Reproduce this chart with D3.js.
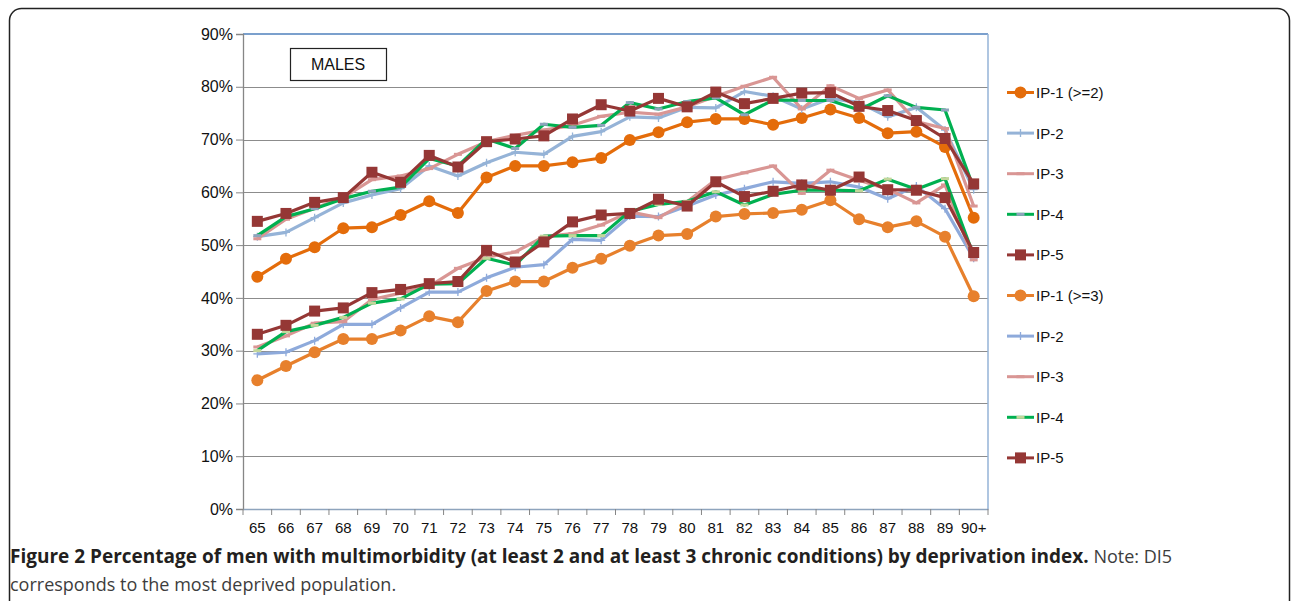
<!DOCTYPE html>
<html>
<head>
<meta charset="utf-8">
<script src="https://cdn.jsdelivr.net/npm/d3@7"></script>
<style>
  body { margin: 0; background: #fff; }
  svg { display: block; }
</style>
</head>
<body>
<div id="container"></div>
<script>
//---------------------------------------------------------
// DATA

const ages = ['65','66','67','68','69','70','71','72','73','74','75','76','77',
  '78','79','80','81','82','83','84','85','86','87','88','89','90+']

const yTicks = [0, 10, 20, 30, 40, 50, 60, 70, 80, 90]

// at least 2 chronic conditions
const ip1_2 = [44.0,47.4,49.6,53.2,53.4,55.7,58.3,56.1,62.8,65.0,65.0,65.7,66.5,69.9,71.4,73.3,73.9,73.9,72.8,74.1,75.7,74.1,71.2,71.5,68.6,55.2]
const ip2_2 = [51.6,52.4,55.2,58.0,59.5,60.7,65.0,63.1,65.6,67.6,67.2,70.6,71.5,74.3,74.1,76.1,76.0,79.1,78.2,75.8,77.8,77.0,74.3,76.1,71.8,60.5]
const ip3_2 = [51.2,54.9,57.0,59.0,62.4,63.1,64.5,67.2,69.6,70.8,71.8,72.7,74.4,75.2,74.8,76.2,78.2,80.1,81.8,75.8,80.2,77.8,79.4,73.4,72.1,57.4]
const ip4_2 = [51.8,55.4,56.9,58.8,60.2,61.0,66.4,65.0,70.1,68.3,72.9,72.3,72.7,77.0,75.8,77.2,77.9,74.7,77.5,77.4,77.4,75.6,78.3,76.1,75.6,60.8]
const ip5_2 = [54.5,56.0,58.1,59.0,63.8,61.9,67.0,64.8,69.6,70.1,70.7,73.9,76.6,75.4,77.8,76.2,79.0,76.8,77.8,78.8,78.9,76.3,75.5,73.6,70.2,61.6]

// at least 3 chronic conditions
const ip1_3 = [24.4,27.1,29.7,32.2,32.2,33.8,36.5,35.4,41.3,43.1,43.1,45.7,47.4,49.9,51.8,52.1,55.4,55.9,56.1,56.7,58.5,54.9,53.4,54.5,51.6,40.3]
const ip2_3 = [29.4,29.7,31.9,35.0,35.0,38.1,41.1,41.1,43.8,45.8,46.3,51.1,50.9,55.5,55.4,57.4,59.5,60.7,62.0,61.7,62.0,61.0,58.8,61.2,56.9,47.5]
const ip3_3 = [30.7,32.8,35.2,35.5,39.7,40.9,42.2,45.6,47.7,48.7,51.6,52.2,53.8,56.3,55.2,58.2,62.4,63.7,65.0,59.8,64.2,62.3,60.6,58.0,61.4,47.2]
const ip4_3 = [30.0,33.6,34.8,36.3,39.0,39.8,42.6,42.7,47.5,46.2,51.7,51.8,51.8,56.4,57.7,58.3,60.1,57.6,59.6,60.4,60.4,60.3,62.5,60.6,62.6,48.0]
const ip5_3 = [33.1,34.8,37.5,38.1,41.0,41.6,42.7,43.1,49.0,46.8,50.6,54.4,55.7,56.0,58.7,57.4,62.0,59.2,60.2,61.4,60.4,62.9,60.5,60.4,59.0,48.6]

const seriesNames = ['IP-1 (>=2)','IP-2','IP-3','IP-4','IP-5','IP-1 (>=3)','IP-2','IP-3','IP-4','IP-5']
const seriesValues = [ip1_2, ip2_2, ip3_2, ip4_2, ip5_2, ip1_3, ip2_3, ip3_3, ip4_3, ip5_3]
const seriesColors = ['#e46c0a','#95b3d7','#d99694','#00b050','#953735','#e7802c','#8eaadb','#d99694','#00b050','#953735']
const seriesMarkers = ['circle','plus','dash','dash','square','circle','plus','dash','dash','square']
const markerColors = ['#e46c0a','#95b3d7','#d99694','#8ea4bd','#953735','#e7802c','#8eaadb','#d99694','#c3d69b','#953735']

//---------------------------------------------------------
// SETUP

const width = 1292
const height = 601
const margin = {top: 34, right: 304, bottom: 92, left: 243}

const svg = d3.select('#container').append('svg')
  .attr('width', width)
  .attr('height', height)
  .style('font-family', '"Liberation Sans", Arial, sans-serif')

// outer frame
svg.append('rect')
  .attr('x', 9.5).attr('y', 8.5)
  .attr('width', 1280).attr('height', 640)
  .attr('rx', 12)
  .attr('fill', 'none')
  .attr('stroke', '#222')
  .attr('stroke-width', 1.5)

const x = d3.scaleBand()
  .domain(ages)
  .range([margin.left, width - margin.right])

const y = d3.scaleLinear()
  .domain([0, 90])
  .range([height - margin.bottom, margin.top])

const cx = d => x(d) + x.bandwidth() / 2

//---------------------------------------------------------
// AXES & GRID

svg.append('g')
  .selectAll('line')
  .data(yTicks.filter(d => d > 0 && d < 90))
  .join('line')
    .attr('x1', margin.left).attr('x2', width - margin.right)
    .attr('y1', d => Math.round(y(d)) + 0.5).attr('y2', d => Math.round(y(d)) + 0.5)
    .attr('stroke', '#8c8c8c')
    .attr('stroke-width', 1.2)

// top line and right border (blue)
svg.append('line')
  .attr('x1', margin.left).attr('x2', width - margin.right)
  .attr('y1', y(90)).attr('y2', y(90))
  .attr('stroke', '#4f81bd').attr('stroke-width', 1.3)
svg.append('line')
  .attr('x1', width - margin.right).attr('x2', width - margin.right)
  .attr('y1', y(90)).attr('y2', y(0))
  .attr('stroke', '#95b3d7').attr('stroke-width', 1.5)

const yAxis = svg.append('g')
  .attr('transform', `translate(${margin.left},0)`)
  .call(d3.axisLeft(y).tickValues(yTicks).tickFormat(d => d + '%').tickSize(7).tickPadding(3))
yAxis.select('.domain').attr('stroke', '#868686').attr('stroke-width', 1.3)
yAxis.selectAll('.tick line').attr('stroke', '#868686')
yAxis.selectAll('text').attr('font-size', 16).attr('fill', '#111').attr('font-family', '"Liberation Sans", Arial, sans-serif')

const xAxis = svg.append('g')
  .attr('transform', `translate(0,${y(0)})`)
  .call(d3.axisBottom(x).tickSize(0).tickPadding(13))
xAxis.select('.domain').attr('stroke', '#8ea4bd').attr('stroke-width', 1.5)
xAxis.selectAll('text').attr('font-size', 15).attr('fill', '#111').attr('font-family', '"Liberation Sans", Arial, sans-serif')

// x ticks at category boundaries
svg.append('g')
  .selectAll('line')
  .data(ages.concat(['end']))
  .join('line')
    .attr('x1', (d, i) => margin.left + i * x.step())
    .attr('x2', (d, i) => margin.left + i * x.step())
    .attr('y1', y(0)).attr('y2', y(0) + 6)
    .attr('stroke', '#868686')

//---------------------------------------------------------
// MALES LABEL

svg.append('rect')
  .attr('x', 290.5).attr('y', 48.5)
  .attr('width', 96).attr('height', 32)
  .attr('fill', '#fff').attr('stroke', '#222').attr('stroke-width', 1.2)
svg.append('text')
  .attr('x', 338).attr('y', 70)
  .attr('text-anchor', 'middle')
  .attr('font-size', 16)
  .attr('fill', '#111')
  .text('MALES')

//---------------------------------------------------------
// LINES

const line = d3.line()
  .x((d, i) => cx(ages[i]))
  .y(d => y(d))

function drawMarker(g, type, color, px, py) {
  if (type === 'circle') {
    g.append('circle').attr('cx', px).attr('cy', py).attr('r', 6).attr('fill', color)
  } else if (type === 'square') {
    g.append('rect').attr('x', px - 5.5).attr('y', py - 5.5).attr('width', 11).attr('height', 11).attr('fill', color)
  } else if (type === 'plus') {
    g.append('path').attr('d', `M${px - 4},${py}H${px + 4}M${px},${py - 4}V${py + 4}`)
      .attr('stroke', color).attr('stroke-width', 1.3).attr('fill', 'none')
  } else if (type === 'dash') {
    g.append('path').attr('d', `M${px - 4},${py}H${px + 4}`)
      .attr('stroke', color).attr('stroke-width', 3).attr('fill', 'none')
  }
}

// draw order: later series on top
seriesValues.forEach((vals, s) => {
  const g = svg.append('g')
  g.append('path')
    .datum(vals)
    .attr('d', line)
    .attr('fill', 'none')
    .attr('stroke', seriesColors[s])
    .attr('stroke-width', 3.2)
    .attr('stroke-linejoin', 'round')
  vals.forEach((v, i) => drawMarker(g, seriesMarkers[s], markerColors[s], cx(ages[i]), y(v)))
})

//---------------------------------------------------------
// LEGEND

const legend = svg.append('g')
seriesNames.forEach((name, s) => {
  const ly = 92.5 + s * 40.6
  const g = legend.append('g')
  g.append('line')
    .attr('x1', 1007).attr('x2', 1034)
    .attr('y1', ly).attr('y2', ly)
    .attr('stroke', seriesColors[s]).attr('stroke-width', 3)
  drawMarker(g, seriesMarkers[s], markerColors[s], 1020.5, ly)
  g.append('text')
    .attr('x', 1036).attr('y', ly + 5.5)
    .attr('font-size', 15)
    .attr('fill', '#111')
    .text(name)
})

//---------------------------------------------------------
// CAPTION

const caption = svg.append('text')
  .attr('x', 10).attr('y', 563)
  .style('font-family', '"Open Sans", "Noto Sans", sans-serif')
caption.append('tspan')
  .attr('font-weight', 'bold').attr('fill', '#231f20')
  .attr('font-size', 19)
  .text('Figure 2 Percentage of men with multimorbidity (at least 2 and at least 3 chronic conditions) by deprivation index.')
caption.append('tspan')
  .attr('fill', '#3d3d3d')
  .attr('font-size', 18)
  .text(' Note: DI5')

svg.append('text')
  .attr('x', 10).attr('y', 591)
  .style('font-family', '"Open Sans", "Noto Sans", sans-serif')
  .attr('font-size', 18)
  .attr('fill', '#3d3d3d')
  .text('corresponds to the most deprived population.')
</script>
</body>
</html>
